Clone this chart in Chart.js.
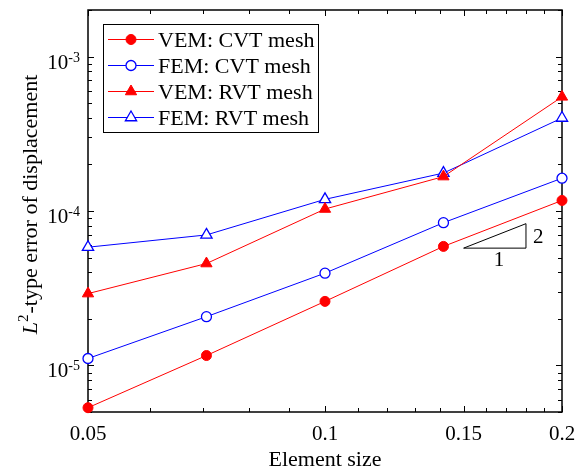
<!DOCTYPE html>
<html>
<head>
<meta charset="utf-8">
<script src="https://cdn.jsdelivr.net/npm/chart.js@4.4.0/dist/chart.umd.min.js"></script>
<style>
html, body { margin: 0; padding: 0; background: #fff; }
#wrap { width: 587px; height: 471px; }
</style>
</head>
<body>
<div id="wrap"><canvas id="errChart" width="587" height="471"></canvas></div>
<script>
// data
const elementSize = [0.05, 0.0707, 0.1, 0.1414, 0.2];
const vemCvt = [5.33e-6, 1.16e-5, 2.6e-5, 5.9e-5, 1.17e-4];
const femCvt = [1.11e-5, 2.07e-5, 3.96e-5, 8.4e-5, 1.63e-4];
const vemRvt = [2.92e-5, 4.57e-5, 1.03e-4, 1.67e-4, 5.48e-4];
const femRvt = [5.83e-5, 7.0e-5, 1.19e-4, 1.76e-4, 4.0e-4];

// slope-2 triangle
const slopeX = [0.15, 0.18, 0.18, 0.15];
const slopeY = [5.75e-5, 5.75e-5, 8.28e-5, 5.75e-5];

const xTickLabels = [0.05, 0.1, 0.15, 0.2];
const yTickExps = [-5, -4, -3];

const FONT = '"Liberation Serif", "Times New Roman", serif';

function pts(xs, ys) { return xs.map((x, i) => ({ x, y: ys[i] })); }

function marker(ctx, style, r, x, y) {
  ctx.beginPath();
  if (style === 'triangle') {
    let a = 0;
    ctx.moveTo(x + Math.sin(a) * r, y - Math.cos(a) * r);
    a += 2 * Math.PI / 3;
    ctx.lineTo(x + Math.sin(a) * r, y - Math.cos(a) * r);
    a += 2 * Math.PI / 3;
    ctx.lineTo(x + Math.sin(a) * r, y - Math.cos(a) * r);
    ctx.closePath();
  } else {
    ctx.arc(x, y, r, 0, Math.PI * 2);
  }
  ctx.fill();
  ctx.stroke();
}

const framePlugin = {
  id: 'frame',
  beforeDatasetsDraw(chart) {
    const { ctx, chartArea: a, scales: { x, y } } = chart;
    ctx.save();
    ctx.strokeStyle = '#000';
    ctx.lineWidth = 1;
    // x ticks every 0.01, inward, top and bottom
    for (let v = 5; v <= 20; v++) {
      const val = v / 100;
      const px = Math.round(x.getPixelForValue(val)) + 0.5;
      const len = xTickLabels.some(t => Math.abs(t - val) < 1e-9) ? 6 : 4;
      ctx.beginPath();
      ctx.moveTo(px, a.bottom); ctx.lineTo(px, a.bottom - len);
      ctx.moveTo(px, a.top); ctx.lineTo(px, a.top + len);
      ctx.stroke();
    }
    // y ticks, log minor
    for (let e = -6; e <= -3; e++) {
      for (let m = 1; m <= 9; m++) {
        const val = m * Math.pow(10, e);
        if (val < 5e-6 * 0.999 || val > 2e-3 * 1.001) continue;
        const py = Math.round(y.getPixelForValue(val)) + 0.5;
        const len = m === 1 ? 6 : 4;
        ctx.beginPath();
        ctx.moveTo(a.left, py); ctx.lineTo(a.left + len, py);
        ctx.moveTo(a.right, py); ctx.lineTo(a.right - len, py);
        ctx.stroke();
      }
    }
    ctx.lineWidth = 1.5;
    ctx.strokeRect(a.left, a.top, a.right - a.left, a.bottom - a.top);

    // tick labels
    ctx.fillStyle = '#000';
    ctx.textBaseline = 'alphabetic';
    ctx.font = '21px ' + FONT;
    ctx.textAlign = 'center';
    xTickLabels.forEach(v => {
      ctx.fillText(String(v), x.getPixelForValue(v), a.bottom + 28);
    });
    ctx.textAlign = 'left';
    yTickExps.forEach(e => {
      const py = y.getPixelForValue(Math.pow(10, e));
      const sup = '-' + (-e);
      ctx.font = '14px ' + FONT;
      const ws = ctx.measureText(sup).width;
      ctx.font = '21px ' + FONT;
      const wm = ctx.measureText('10').width;
      const right = a.left - 8;
      ctx.fillText('10', right - ws - wm, py + 12);
      ctx.font = '14px ' + FONT;
      ctx.fillText(sup, right - ws, py + 5);
    });

    // axis titles
    ctx.font = '22px ' + FONT;
    ctx.textAlign = 'center';
    ctx.fillText('Element size', (a.left + a.right) / 2, 466);

    const parts = [
      { t: 'L', f: 'italic 22px ' + FONT, dy: 0 },
      { t: '2', f: '15px ' + FONT, dy: -9 },
      { t: '-type error of displacement', f: '22px ' + FONT, dy: 0 }
    ];
    ctx.textAlign = 'left';
    let tw = 0;
    parts.forEach(p => { ctx.font = p.f; p.w = ctx.measureText(p.t).width; tw += p.w; });
    ctx.translate(37, 205);
    ctx.rotate(-Math.PI / 2);
    let cx = -tw / 2;
    parts.forEach(p => { ctx.font = p.f; ctx.fillText(p.t, cx, p.dy); cx += p.w + (p.t === '2' ? 1 : 0); });
    ctx.restore();
  },
  afterDraw(chart) {
    const { ctx } = chart;
    ctx.save();
    // slope labels
    ctx.fillStyle = '#000';
    ctx.font = '21px ' + FONT;
    ctx.textAlign = 'center';
    ctx.fillText('1', 499, 266);
    ctx.textAlign = 'left';
    ctx.fillText('2', 533, 243);

    // legend
    ctx.fillStyle = '#fff';
    ctx.fillRect(103.5, 24.5, 215, 108);
    ctx.strokeStyle = '#000';
    ctx.lineWidth = 1;
    ctx.strokeRect(103.5, 24.5, 215, 108);
    ctx.font = '22px ' + FONT;
    ctx.textAlign = 'left';
    chart.data.datasets.filter(d => d.inLegend).forEach((d, i) => {
      const ry = 39 + i * 26;
      ctx.strokeStyle = d.borderColor;
      ctx.lineWidth = 1;
      ctx.beginPath();
      ctx.moveTo(108, ry + 0.5); ctx.lineTo(154, ry + 0.5);
      ctx.stroke();
      ctx.fillStyle = d.pointBackgroundColor;
      ctx.lineWidth = d.pointBorderWidth;
      marker(ctx, d.pointStyle, d.pointRadius, 131, ry + 0.5);
      ctx.fillStyle = '#000';
      ctx.fillText(d.label, 158, ry + 7.5);
    });
    ctx.restore();
  }
};

function series(label, ys, color, style, filled) {
  const tri = style === 'triangle';
  return {
    label, inLegend: true,
    data: pts(elementSize, ys),
    borderColor: color, backgroundColor: color,
    borderWidth: 1,
    pointStyle: style,
    pointRadius: tri ? 6.5 : 5,
    pointHoverRadius: tri ? 6.5 : 5,
    pointBackgroundColor: filled ? color : '#fff',
    pointBorderColor: color,
    pointBorderWidth: filled ? 1 : 1.3,
    tension: 0, clip: false
  };
}

new Chart(document.getElementById('errChart'), {
  type: 'line',
  data: {
    datasets: [
      {
        label: 'slope', inLegend: false,
        data: pts(slopeX, slopeY),
        borderColor: '#000', borderWidth: 1, pointRadius: 0, tension: 0, clip: false
      },
      series('VEM: CVT mesh', vemCvt, '#ff0000', 'circle', true),
      series('FEM: CVT mesh', femCvt, '#0000ff', 'circle', false),
      series('VEM: RVT mesh', vemRvt, '#ff0000', 'triangle', true),
      series('FEM: RVT mesh', femRvt, '#0000ff', 'triangle', false)
    ]
  },
  options: {
    responsive: false,
    animation: false,
    layout: { padding: { left: 88, right: 25, top: 10, bottom: 59 } },
    plugins: { legend: { display: false }, tooltip: { enabled: false } },
    scales: {
      x: { type: 'logarithmic', min: 0.05, max: 0.2, display: false },
      y: { type: 'logarithmic', min: 5e-6, max: 2e-3, display: false }
    }
  },
  plugins: [framePlugin]
});
</script>
</body>
</html>
